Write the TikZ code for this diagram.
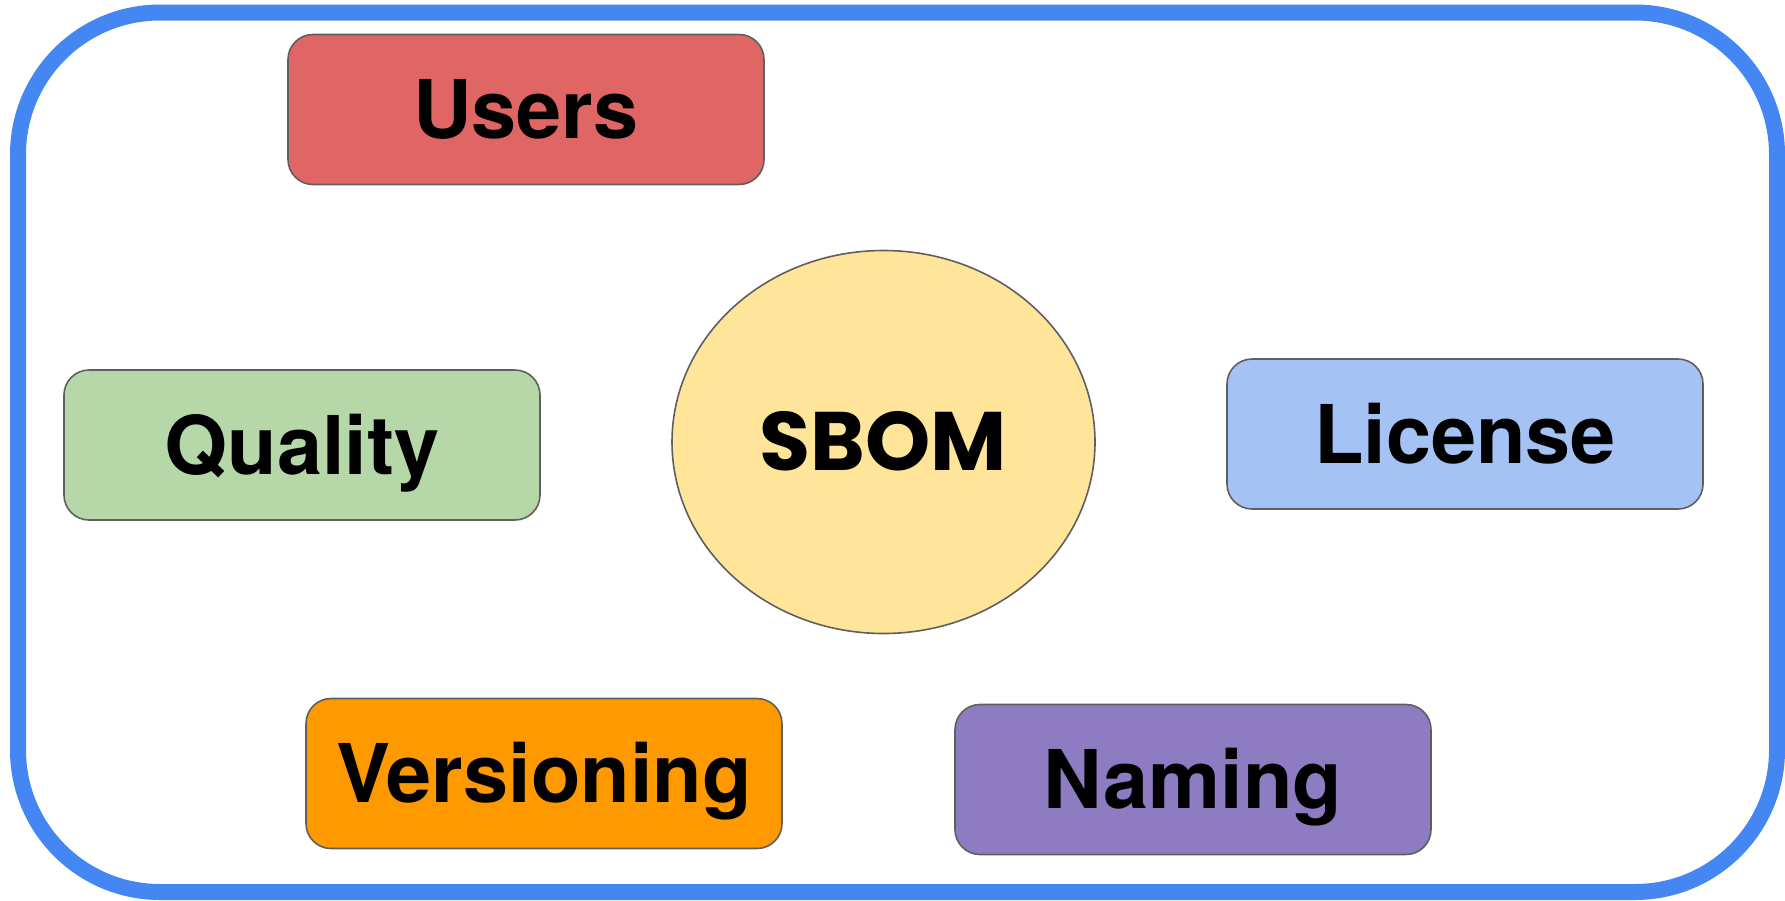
\documentclass[tikz,border=0pt]{standalone}
\usepackage{fontspec}
\setmainfont{TeX Gyre Heros}
\newfontfamily\sbomfont{Poppins}
\usetikzlibrary{shapes.geometric}

\definecolor{frameblue}{HTML}{4487F2}
\definecolor{edgegray}{HTML}{5F5F5F}
\definecolor{usersred}{HTML}{E06666}
\definecolor{qualitygreen}{HTML}{B6D7A8}
\definecolor{licenseblue}{HTML}{A4C2F4}
\definecolor{versionorange}{HTML}{FF9900}
\definecolor{namingpurple}{HTML}{8E7CC3}
\definecolor{sbomyellow}{HTML}{FFE599}

\tikzset{
  topicbox/.style={
    draw=edgegray, line width=1.6pt, rounded corners=25pt,
    minimum width=476pt, minimum height=150pt, inner sep=0pt,
    font=\fontsize{81}{97}\selectfont\bfseries,
    text height=58pt, text depth=0pt, text=black
  },
  corebubble/.style={
    ellipse, draw=edgegray, line width=1.6pt, fill=sbomyellow,
    minimum width=423pt, minimum height=383pt, inner sep=0pt,
    font=\sbomfont\fontsize{83}{99}\selectfont\bfseries,
    text height=57pt, text depth=0pt, text=black
  }
}

\begin{document}
\begin{tikzpicture}[x=1pt, y=-1pt]
  \useasboundingbox (0,0) rectangle (1785,900);

  % outer frame
  \draw[frameblue, line width=16pt, rounded corners=142pt]
    (18,12.5) rectangle (1777,892);

  % central topic
  \node[corebubble] (sbom) at (883.5,442) {SBOM};

  % surrounding topics
  \node[topicbox, fill=usersred]      (users)      at (526,109.5) {Users};
  \node[topicbox, fill=qualitygreen]  (quality)    at (302,445)   {Quality};
  \node[topicbox, fill=licenseblue]   (license)    at (1465,434)  {License};
  \node[topicbox, fill=versionorange] (versioning) at (544,773.5) {Versioning};
  \node[topicbox, fill=namingpurple]  (naming)     at (1193,779.5){Naming};
\end{tikzpicture}
\end{document}
